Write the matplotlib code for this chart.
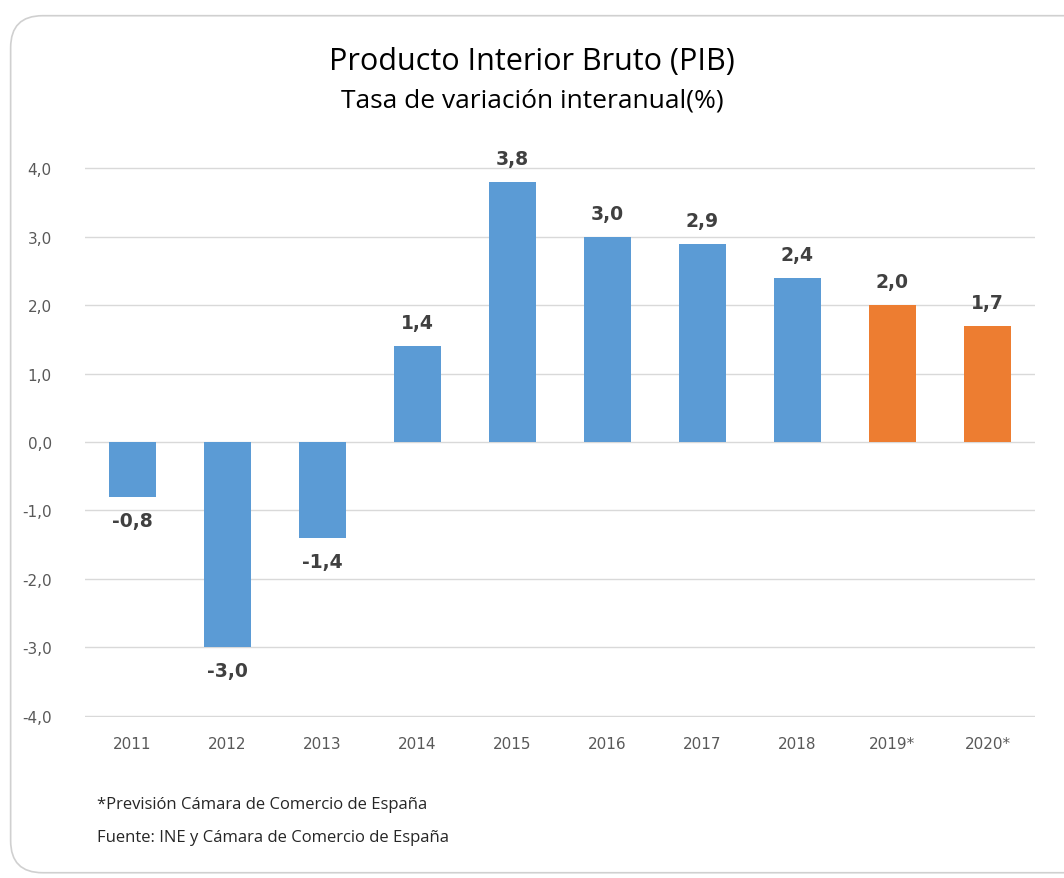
import matplotlib
matplotlib.use("Agg")
import matplotlib.pyplot as plt
from matplotlib.patches import FancyBboxPatch

# PIB Espana, tasa de variacion interanual
years = ['2011', '2012', '2013', '2014', '2015', '2016', '2017', '2018', '2019*', '2020*']
pib = [-0.8, -3.0, -1.4, 1.4, 3.8, 3.0, 2.9, 2.4, 2.0, 1.7]
forecast = [False]*8 + [True]*2
y_ticks = [-4, -3, -2, -1, 0, 1, 2, 3, 4]

blue = '#5B9BD5'
orange = '#ED7D31'

fig = plt.figure(figsize=(10.64, 8.79), dpi=100)
fig.patch.set_facecolor('white')

# rounded frame around the chart (right side runs off the picture)
frame = FancyBboxPatch((0.010, 0.006), 1.05, 0.975, boxstyle='round,pad=0,rounding_size=0.03',
                       transform=fig.transFigure, facecolor='none', edgecolor='#d0d0d0',
                       linewidth=1.2, mutation_aspect=1064/879, zorder=-10)
fig.patches.append(frame)

ax = fig.add_axes([0.0799, 0.1832, 0.8928, 0.6257])
ax.set_facecolor('none')

colors = [orange if f else blue for f in forecast]
x = list(range(len(years)))
bars = ax.bar(x, pib, width=0.5, color=colors, zorder=3)

ax.set_xlim(-0.5, len(years) - 0.5)
ax.set_ylim(-4.02, 4.02)
ax.set_yticks(y_ticks)
ax.set_yticklabels([f"{v:.1f}".replace('.', ',') for v in y_ticks])
ax.set_xticks(x)
ax.set_xticklabels(years)
ax.grid(axis='y', color='#d9d9d9', linewidth=1, zorder=0)
for s in ax.spines.values():
    s.set_visible(False)
ax.tick_params(axis='both', length=0, labelsize=11, labelcolor='#595959')
ax.tick_params(axis='y', pad=24)
ax.tick_params(axis='x', pad=14)

for xi, v in zip(x, pib):
    lbl = f"{v:.1f}".replace('.', ',')
    off = 10 if v >= 0 else -10
    ax.annotate(lbl, (xi, v), xytext=(0, off), textcoords='offset points',
                ha='center', va='bottom' if v >= 0 else 'top',
                fontsize=13.5, fontweight='bold', color='#404040')

fig.text(0.5, 0.930, 'Producto Interior Bruto (PIB)', ha='center', va='center',
         fontsize=22, family='Open Sans', color='#000000')
fig.text(0.5, 0.885, 'Tasa de variación interanual(%)', ha='center', va='center',
         fontsize=19, family='Open Sans', color='#000000')

fig.text(0.091, 0.084, '*Previsión Cámara de Comercio de España', ha='left', va='center',
         fontsize=12, family='Open Sans', color='#262626')
fig.text(0.091, 0.047, 'Fuente: INE y Cámara de Comercio de España', ha='left', va='center',
         fontsize=12, family='Open Sans', color='#262626')

fig.savefig('out.png', dpi=100)
